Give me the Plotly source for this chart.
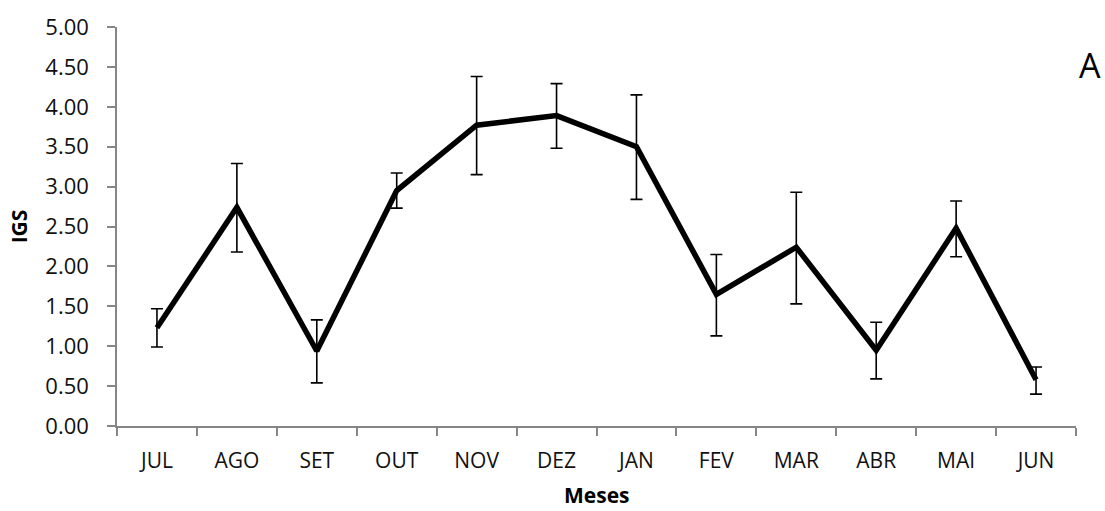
import plotly.graph_objects as go

months = ["JUL", "AGO", "SET", "OUT", "NOV", "DEZ", "JAN", "FEV", "MAR", "ABR", "MAI", "JUN"]
igs = [1.23, 2.74, 0.94, 2.95, 3.77, 3.89, 3.50, 1.65, 2.24, 0.95, 2.48, 0.58]
upper = [1.47, 3.29, 1.33, 3.17, 4.38, 4.29, 4.15, 2.15, 2.93, 1.30, 2.82, 0.74]
lower = [0.99, 2.18, 0.54, 2.73, 3.15, 3.48, 2.84, 1.13, 1.53, 0.59, 2.12, 0.40]
yticks = [0, 0.5, 1, 1.5, 2, 2.5, 3, 3.5, 4, 4.5, 5]

err_plus = [u - v for u, v in zip(upper, igs)]
err_minus = [v - l for v, l in zip(igs, lower)]

FONT = "Open Sans"
fig = go.Figure()
fig.add_trace(go.Scatter(
    x=months, y=igs, mode="lines",
    line=dict(color="black", width=5.5),
    error_y=dict(type="data", symmetric=False, array=err_plus, arrayminus=err_minus,
                 color="black", thickness=1.6, width=6),
    showlegend=False,
))

W, H = 1105, 511
L, R, T, B = 117, 29, 27, 85
PW, PH = W - L - R, H - T - B
fig.update_layout(
    width=W, height=H,
    margin=dict(l=L, r=R, t=T, b=B),
    paper_bgcolor="white", plot_bgcolor="white",
    font=dict(family=FONT, color="black", size=22),
    xaxis=dict(
        type="category", range=[-0.5, 11.5], tickson="boundaries",
        showline=True, linecolor="#868686", linewidth=1.5,
        ticks="outside", ticklen=8, tickcolor="#868686", tickwidth=1.5,
        showgrid=False, zeroline=False, automargin=False,
        tickfont=dict(size=21, family=FONT, color="#111111"),
        ticklabelstandoff=15,
    ),
    yaxis=dict(
        range=[0, 5], tickvals=yticks, ticktext=[f"{v:.2f}" for v in yticks],
        showline=True, linecolor="#868686", linewidth=1.5,
        ticks="outside", ticklen=8, tickcolor="#868686", tickwidth=1.5,
        showgrid=False, zeroline=False, automargin=False,
        tickfont=dict(size=22, family=FONT, color="#111111"),
        ticklabelstandoff=14,
        title=dict(text="<b>IGS</b>", font=dict(size=21, family=FONT), standoff=12),
    ),
    annotations=[
        dict(
            text="A", xref="paper", yref="paper",
            x=(1090 - L) / PW, y=1 - (65 - T) / PH,
            showarrow=False, xanchor="center", yanchor="middle",
            font=dict(size=34, family=FONT, color="black"),
        ),
        dict(
            text="<b>Meses</b>", xref="paper", yref="paper",
            x=0.5, y=-(B - 1) / PH,
            showarrow=False, xanchor="center", yanchor="bottom", borderpad=0,
            font=dict(size=21, family=FONT, color="black"),
        ),
    ],
)

fig.write_html("out.html")
